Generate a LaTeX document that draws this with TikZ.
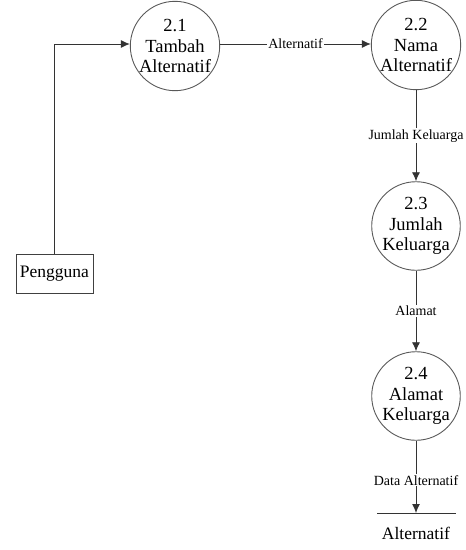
\documentclass[tikz,border=0pt]{standalone}
\usepackage{fontspec}
\setmainfont{Liberation Serif}
\usetikzlibrary{arrows.meta}
\begin{document}
\begin{tikzpicture}[x=1pt,y=-1pt,
  proc/.style={circle,draw=black!65,line width=0.9pt,minimum size=84pt,inner sep=0pt,align=center,font=\fontsize{18.5}{20.5}\selectfont},
  ent/.style={rectangle,draw=black!75,line width=0.9pt,minimum width=77pt,minimum height=39pt,font=\fontsize{17.5}{20}\selectfont},
  flow/.style={draw=black!80,line width=0.9pt,-{Latex[length=9pt,width=8pt]}},
  lbl/.style={fill=white,inner sep=1pt,font=\fontsize{14}{16}\selectfont}]
\useasboundingbox (0,0) rectangle (466,550);
\node[proc] (p1) at (175,46) {2.1\\Tambah\\Alternatif};
\node[proc] (p2) at (416,45) {2.2\\Nama\\Alternatif};
\node[proc] (p3) at (416,226) {2.3\\Jumlah\\Keluarga};
\node[proc] (p4) at (416,396) {2.4\\Alamat\\Keluarga};
\node[ent] (u) at (54.5,273.5) {Pengguna};
\coordinate (c1) at (54,44);
\coordinate (ds) at (416,513);
\draw[draw=black!80,line width=0.9pt] (377,513) -- (456,513);
\node[font=\fontsize{17.5}{20}\selectfont] (dsl) at (416,533) {Alternatif};
\draw[flow] (u.north -| c1) -- (c1) -- (p1.west |- c1);
\draw[flow] (p1.east |- 0,44) -- node[lbl]{Alternatif} (p2.west |- 0,44);
\draw[flow] (p2.south) -- node[lbl,pos=0.5]{Jumlah Keluarga} (p3.north);
\draw[flow] (p3.south) -- node[lbl]{Alamat} (p4.north);
\draw[flow] (p4.south) -- node[lbl,pos=0.55]{Data Alternatif} (ds);
\end{tikzpicture}
\end{document}
